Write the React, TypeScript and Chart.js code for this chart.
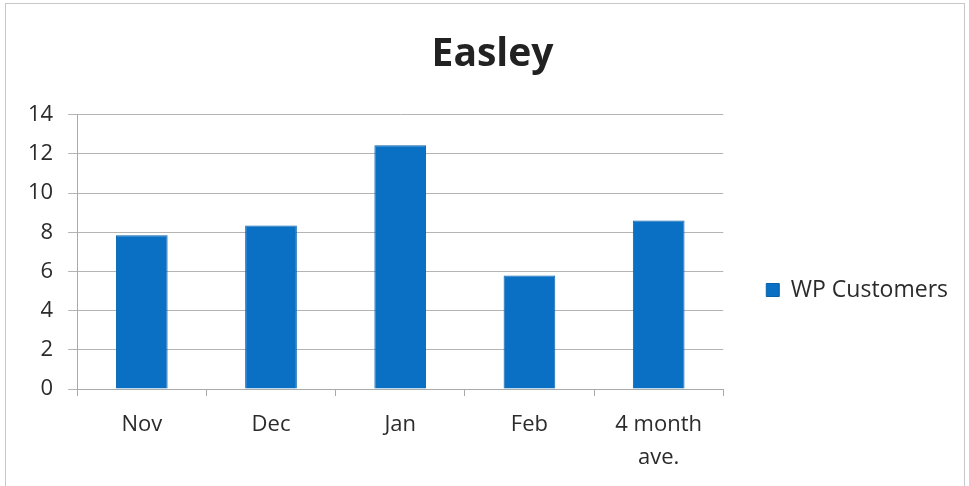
import React, { useEffect, useRef } from "react";
import { Chart, registerables } from "chart.js";

Chart.register(...registerables);

const chartTitle = "Easley";
const categories: (string | string[])[] = ["Nov", "Dec", "Jan", "Feb", ["4 month", "ave."]];
const seriesName = "WP Customers";
const customers = [7.85, 8.35, 12.45, 5.8, 8.6];
const yMin = 0;
const yMax = 14;
const yStep = 2;

const FONT = "'Open Sans', 'Noto Sans', sans-serif";

// Nudges the title block slightly to the right (title center in reference sits right of canvas center)
const titleShift = {
  id: "titleShift",
  afterLayout(chart: any) {
    const tb = chart.titleBlock;
    if (tb) {
      tb.left += 7;
      tb.right += 7;
    }
  },
};

export default function App() {
  const canvasRef = useRef<HTMLCanvasElement | null>(null);

  useEffect(() => {
    if (!canvasRef.current) return;
    const chart = new Chart(canvasRef.current, {
      type: "bar",
      data: {
        labels: categories,
        datasets: [
          {
            label: seriesName,
            data: customers,
            backgroundColor: "#0a70c4",
            borderColor: "#0861ab",
            borderWidth: 1,
            categoryPercentage: 0.8,
            barPercentage: 0.5,
          },
        ],
      },
      options: {
        animation: false,
        responsive: false,
        maintainAspectRatio: false,
        layout: { padding: { left: 13, right: 11, top: 0, bottom: 0 } },
        plugins: {
          title: {
            display: true,
            text: chartTitle,
            color: "#222",
            font: { family: FONT, size: 39, weight: "bold" },
            padding: { top: 31, bottom: 37 },
          },
          legend: {
            display: true,
            position: "right",
            title: {
              display: true,
              text: "",
              font: { family: FONT, size: 20 },
              padding: { top: 35, bottom: 35 },
            },
            labels: {
              boxWidth: 13,
              boxHeight: 13,
              padding: 43,
              color: "#2b2b2b",
              font: { family: FONT, size: 23 },
            },
          },
          tooltip: { enabled: false },
        },
        scales: {
          x: {
            offset: true,
            grid: {
              display: true,
              drawOnChartArea: false,
              drawTicks: true,
              tickLength: 7,
              color: "#aaa",
              offset: true,
            },
            border: { display: true, color: "#aaa" },
            ticks: {
              color: "#2b2b2b",
              padding: 12,
              font: { family: FONT, size: 22, lineHeight: 1.5 },
              maxRotation: 0,
            },
          },
          y: {
            min: yMin,
            max: yMax,
            ticks: {
              stepSize: yStep,
              color: "#2b2b2b",
              padding: 15,
              font: { family: FONT, size: 22 },
            },
            grid: { color: "#b4b4b4", tickLength: 9 },
            border: { display: true, color: "#aaa" },
          },
        },
      },
      plugins: [titleShift],
    });
    return () => chart.destroy();
  }, []);

  return (
    <div style={{ position: "fixed", left: 0, top: 0, width: 969, height: 486, background: "#fff" }}>
      <canvas ref={canvasRef} width={969} height={486} style={{ display: "block" }} />
      <div
        style={{
          position: "absolute",
          left: 5,
          top: 3,
          width: 958,
          height: 490,
          border: "1px solid #c8c8c8",
          pointerEvents: "none",
        }}
      />
    </div>
  );
}
